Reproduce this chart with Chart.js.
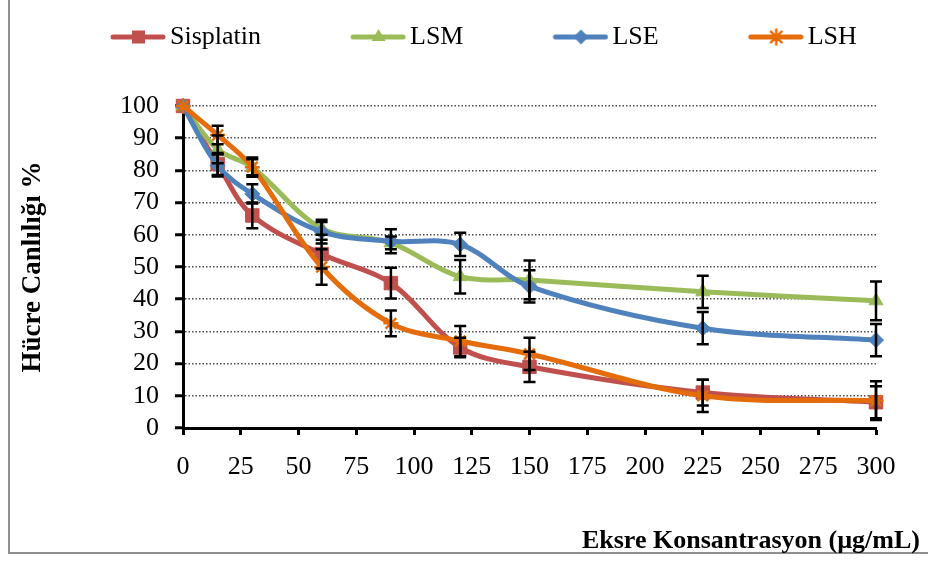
<!DOCTYPE html>
<html><head><meta charset="utf-8">
<script src="https://cdn.jsdelivr.net/npm/chart.js@4.4.1/dist/chart.umd.min.js"></script>
<style>html,body{margin:0;padding:0;background:#fff;}</style>
</head><body>
<canvas id="c" width="928" height="561"></canvas>
<script>
// ---- data ----
const concentrations = [0, 15, 30, 60, 90, 120, 150, 225, 300];
const seriesNames = ['Sisplatin', 'LSM', 'LSE', 'LSH'];
const sisplatin = [100, 82, 66, 54, 45, 25, 19, 11, 8];
const lsm       = [100, 86.5, 81, 62, 57.5, 47, 46, 42.3, 39.5];
const lse       = [100, 81.5, 72.7, 61, 58, 57, 44, 31, 27.3];
const lsh       = [100, 91, 81, 50, 32.5, 27, 23, 10, 8.5];
const sisplatinErr = [0, 3.4, 4, 4.5, 4.8, 3, 4.7, 4, 5];
const lsmErr       = [0, 4.3, 3, 2, 2, 5.2, 6, 5, 6];
const lseErr       = [0, 3.4, 3, 3.7, 3.7, 3.6, 5, 5, 5];
const lshErr       = [0, 2.9, 2.5, 5.5, 4, 4.7, 5, 5, 6];
const xTickValues = [0, 25, 50, 75, 100, 125, 150, 175, 200, 225, 250, 275, 300];
const yTickValues = [0, 10, 20, 30, 40, 50, 60, 70, 80, 90, 100];
const xTitle = 'Eksre Konsantrasyon (µg/mL)';
const yTitle = 'Hücre Canlılığı %';

// ---- styles ----
const colors = ['#C0504D', '#9BBB59', '#4F81BD', '#E46C0A'];
const pStyles = ['rect', 'triangle', 'rectRot', 'star'];
const pRadius = [9.5, 8, 7.5, 7.5];
const FONT = 'Liberation Serif';
const values = [sisplatin, lsm, lse, lsh];
const errors = [sisplatinErr, lsmErr, lseErr, lshErr];

function legendImage(color, style) {
  const w = 144, h = 18, cv = document.createElement('canvas');
  cv.width = w; cv.height = h;
  const g = cv.getContext('2d');
  const cy = h / 2, cx = w - 27.5;
  g.strokeStyle = color; g.fillStyle = color; g.lineWidth = 5; g.lineCap = 'round';
  g.beginPath(); g.moveTo(w - 53, cy); g.lineTo(w - 3, cy); g.stroke();
  g.beginPath();
  if (style === 'rect') { g.fillRect(cx - 6.5, cy - 6.5, 13, 13); }
  else if (style === 'triangle') { g.moveTo(cx, cy - 8); g.lineTo(cx + 7, cy + 4); g.lineTo(cx - 7, cy + 4); g.closePath(); g.fill(); }
  else if (style === 'rectRot') { g.moveTo(cx, cy - 7.5); g.lineTo(cx + 7.5, cy); g.lineTo(cx, cy + 7.5); g.lineTo(cx - 7.5, cy); g.closePath(); g.fill(); }
  else { g.lineWidth = 2.5; const r = 7.5, d = r * Math.SQRT1_2;
    g.moveTo(cx - r, cy); g.lineTo(cx + r, cy); g.moveTo(cx, cy - r); g.lineTo(cx, cy + r);
    g.moveTo(cx - d, cy - d); g.lineTo(cx + d, cy + d); g.moveTo(cx - d, cy + d); g.lineTo(cx + d, cy - d); g.stroke(); }
  return cv;
}
const legendImages = seriesNames.map((n, i) => legendImage(colors[i], pStyles[i]));

const datasets = seriesNames.map((name, i) => ({
  label: name,
  data: concentrations.map((x, k) => ({ x: x, y: values[i][k] })),
  borderColor: colors[i],
  backgroundColor: colors[i],
  borderWidth: 5,
  tension: 0.35,
  pointStyle: pStyles[i],
  pointRadius: pRadius[i],
  pointBackgroundColor: colors[i],
  pointBorderColor: colors[i],
  pointBorderWidth: pStyles[i] === 'star' ? 2.5 : 1,
  order: 4 - i,
  clip: false,
  xAxisID: 'x', yAxisID: 'y'
}));

const errorBars = {
  id: 'errorBars',
  afterDatasetsDraw(chart) {
    const { ctx, scales: { x, y } } = chart;
    ctx.save();
    ctx.strokeStyle = '#000'; ctx.lineWidth = 2.5;
    values.forEach((vals, i) => {
      vals.forEach((v, k) => {
        const e = errors[i][k];
        if (!e) return;
        const px = x.getPixelForValue(concentrations[k]);
        const y1 = y.getPixelForValue(v + e), y2 = y.getPixelForValue(v - e);
        ctx.beginPath();
        ctx.moveTo(px, y1); ctx.lineTo(px, y2);
        ctx.moveTo(px - 6, y1); ctx.lineTo(px + 6, y1);
        ctx.moveTo(px - 6, y2); ctx.lineTo(px + 6, y2);
        ctx.stroke();
      });
    });
    ctx.restore();
  }
};

const frame = {
  id: 'frame',
  beforeDraw(chart) {
    const ctx = chart.ctx;
    ctx.save();
    ctx.fillStyle = '#fff'; ctx.fillRect(0, 0, chart.width, chart.height);
    ctx.strokeStyle = '#8f8f8f'; ctx.lineWidth = 2;
    ctx.beginPath(); ctx.moveTo(9, 0); ctx.lineTo(9, 553); ctx.lineTo(928, 553); ctx.stroke();
    ctx.restore();
  }
};

new Chart(document.getElementById('c'), {
  type: 'line',
  data: { datasets },
  plugins: [frame, errorBars],
  options: {
    responsive: false,
    animation: false,
    devicePixelRatio: 1,
    layout: { padding: { left: 21, right: 8, top: 14, bottom: 4.4 } },
    scales: {
      x: {
        type: 'linear', position: 'bottom', min: 0, max: 300,
        afterBuildTicks: s => { s.ticks = xTickValues.map(v => ({ value: v })); },
        afterFit: s => { s.height = 97.4; },
        grid: { drawOnChartArea: false, drawTicks: true, tickLength: 7, tickColor: '#000', tickWidth: 3 },
        border: { display: true, color: '#000', width: 3 },
        ticks: { color: '#000', font: { family: FONT, size: 26 }, padding: 17, maxRotation: 0, autoSkip: false }
      },
      y: {
        type: 'linear', position: 'left', min: 0, max: 100,
        afterBuildTicks: s => { s.ticks = yTickValues.map(v => ({ value: v })); },
        afterFit: s => { s.width = 162; },
        grid: {
          color: c => (c.tick && c.tick.value === 0) ? 'rgba(0,0,0,0)' : '#4a4a4a',
          lineWidth: 1.5, drawTicks: true, tickLength: 8, tickColor: '#000', tickWidth: 3
        },
        border: { display: true, color: '#000', width: 3, dash: [1.5, 2] },
        ticks: { color: '#000', font: { family: FONT, size: 26 }, padding: 16, autoSkip: false },
        title: { display: true, text: yTitle, color: '#000', font: { family: FONT, size: 27, weight: 'bold', lineHeight: 1.2 }, padding: { top: -4, bottom: 0 } }
      },
      xTop: {
        type: 'linear', axis: 'x', position: 'top', display: true,
        afterFit: s => { s.height = 46; },
        grid: { display: false }, border: { display: false }, ticks: { display: false }
      },
      yRight: {
        type: 'linear', axis: 'y', position: 'right', display: true,
        afterFit: s => { s.width = 44; },
        grid: { display: false }, border: { display: false }, ticks: { display: false }
      }
    },
    plugins: {
      tooltip: { enabled: false },
      legend: {
        display: true, position: 'top', align: 'start',
        labels: {
          usePointStyle: true, pointStyleWidth: 126, padding: 10,
          color: '#000', font: { family: FONT, size: 26 },
          generateLabels: () => seriesNames.map((name, i) => ({
            text: name, pointStyle: legendImages[i], fillStyle: colors[i], strokeStyle: colors[i],
            lineWidth: 0, hidden: false, datasetIndex: i, fontColor: '#000'
          }))
        }
      },
      title: {
        display: true, position: 'bottom', align: 'end', text: xTitle, color: '#000',
        font: { family: FONT, size: 26, weight: 'bold', lineHeight: 1.2 }, padding: 0
      }
    }
  }
});
</script>
</body></html>
